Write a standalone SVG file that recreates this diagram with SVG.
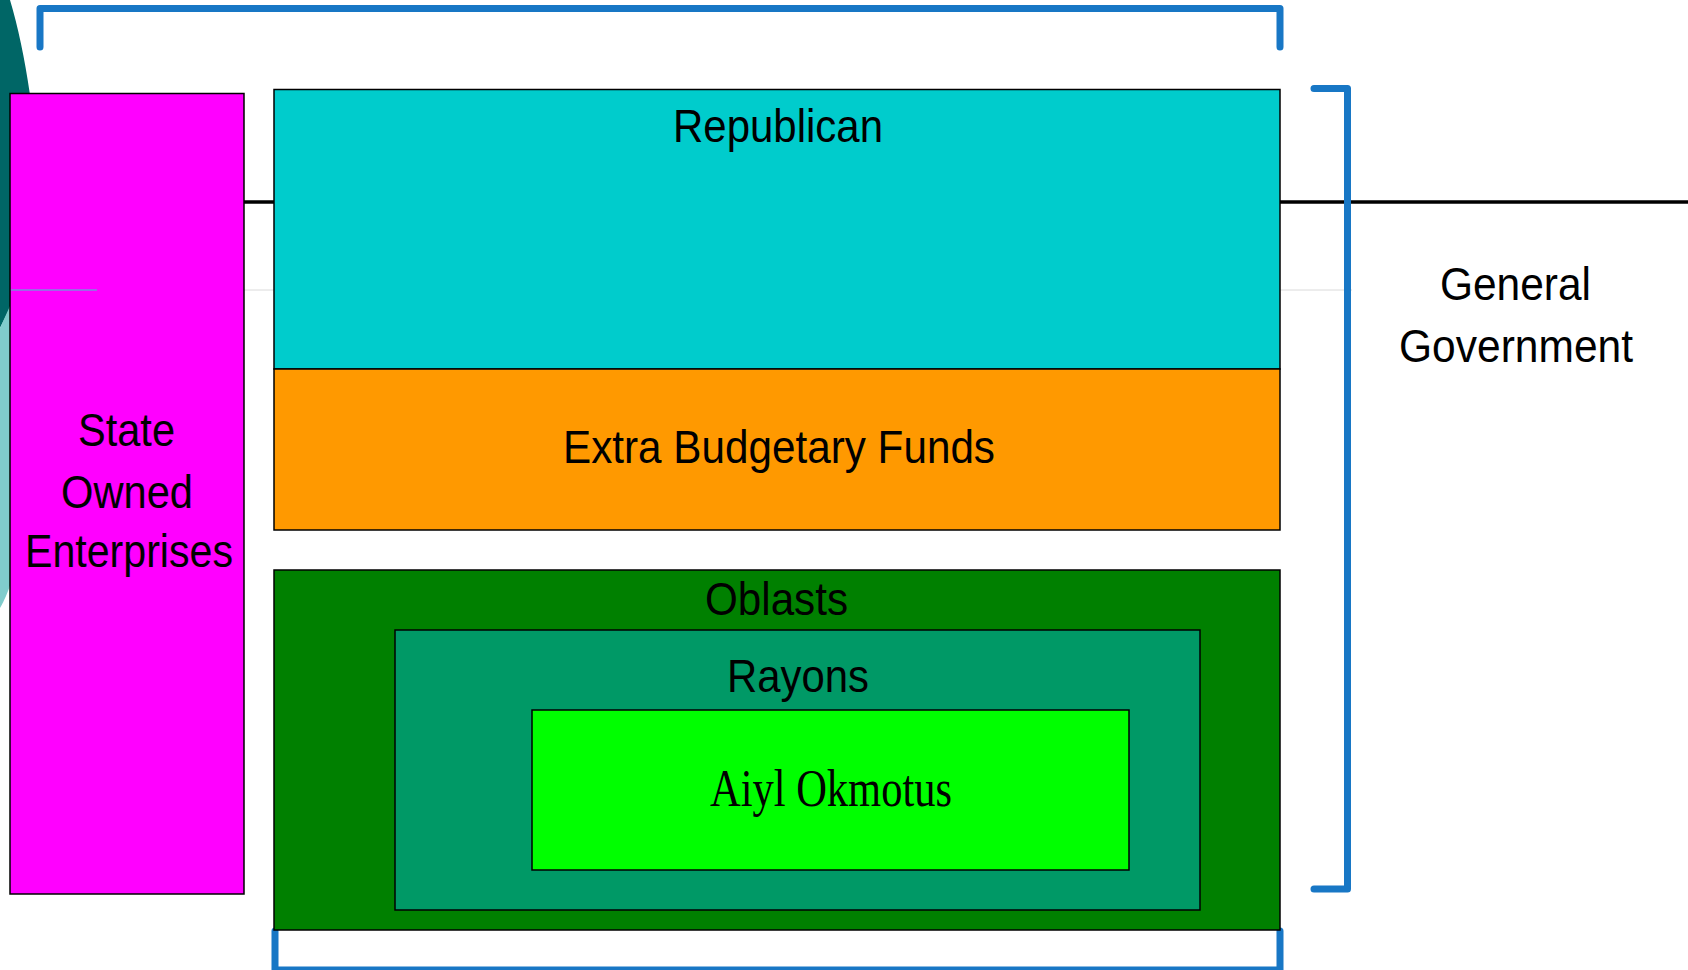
<svg xmlns="http://www.w3.org/2000/svg" width="1688" height="970" viewBox="0 0 1688 970">
<style>
.box{stroke:#000;stroke-width:1.5}
.lbl{font-family:"Liberation Sans",Arial,sans-serif;font-size:47px;fill:#000;text-anchor:middle}
.ser{font-family:"Liberation Serif","Times New Roman",serif;font-size:53px;fill:#000;text-anchor:middle}
.br{fill:none;stroke:#1877c5;stroke-width:7;stroke-linecap:round;stroke-linejoin:round}
</style>
<rect width="1688" height="970" fill="#fff"/>
<g id="decor">
<path d="M0,0 L10,0 Q22,40 30,95 L30,300 L10,308 L0,328 Z" fill="#006666"/>
<path d="M10,306 L0,328 L0,608 Q6,598 12,580 Z" fill="#80cccc"/>
</g>
<g id="connectors">
<line x1="244" y1="202" x2="1688" y2="202" stroke="#000" stroke-width="3.5"/>
<line x1="244" y1="290" x2="1352" y2="290" stroke="#888" stroke-width="1" opacity="0.3"/>
<path class="br" d="M40,47 L40,8.5 L1280,8.5 L1280,47"/>
<path class="br" d="M1314,88.5 L1347.5,88.5 L1347.5,889 L1314,889"/>
<path class="br" d="M275,931 L275,970 L1280,970 L1280,931"/>
</g>
<g id="soe">
<rect class="box" x="10" y="93.5" width="234" height="800.5" fill="#ff00ff"/>
<line x1="11" y1="290" x2="97" y2="290" stroke="#40cccc" stroke-width="1"/>
<text class="lbl" x="126.5" y="446" textLength="97" lengthAdjust="spacingAndGlyphs">State</text>
<text class="lbl" x="127" y="508" textLength="132" lengthAdjust="spacingAndGlyphs">Owned</text>
<text class="lbl" x="129" y="567" textLength="208" lengthAdjust="spacingAndGlyphs">Enterprises</text>
</g>
<g id="republican">
<rect class="box" x="274" y="89.5" width="1006" height="279.5" fill="#00cccc"/>
<text class="lbl" x="778" y="142" textLength="210" lengthAdjust="spacingAndGlyphs">Republican</text>
</g>
<g id="ebf">
<rect class="box" x="274" y="369" width="1006" height="161" fill="#ff9900"/>
<text class="lbl" x="779" y="463" textLength="432" lengthAdjust="spacingAndGlyphs">Extra Budgetary Funds</text>
</g>
<g id="oblasts">
<rect class="box" x="274" y="570" width="1006" height="360" fill="#008000"/>
<text class="lbl" x="776.5" y="615" textLength="143" lengthAdjust="spacingAndGlyphs">Oblasts</text>
</g>
<g id="rayons">
<rect class="box" x="395" y="630" width="805" height="280" fill="#009966"/>
<text class="lbl" x="798" y="692" textLength="142" lengthAdjust="spacingAndGlyphs">Rayons</text>
</g>
<g id="aiyl">
<rect class="box" x="532" y="710" width="597" height="160" fill="#00ff00"/>
<text class="ser" x="831" y="806" textLength="242" lengthAdjust="spacingAndGlyphs">Aiyl Okmotus</text>
</g>
<g id="general">
<text class="lbl" x="1515.5" y="300" font-size="48" textLength="151" lengthAdjust="spacingAndGlyphs">General</text>
<text class="lbl" x="1516" y="362" font-size="48" textLength="234" lengthAdjust="spacingAndGlyphs">Government</text>
</g>
</svg>
